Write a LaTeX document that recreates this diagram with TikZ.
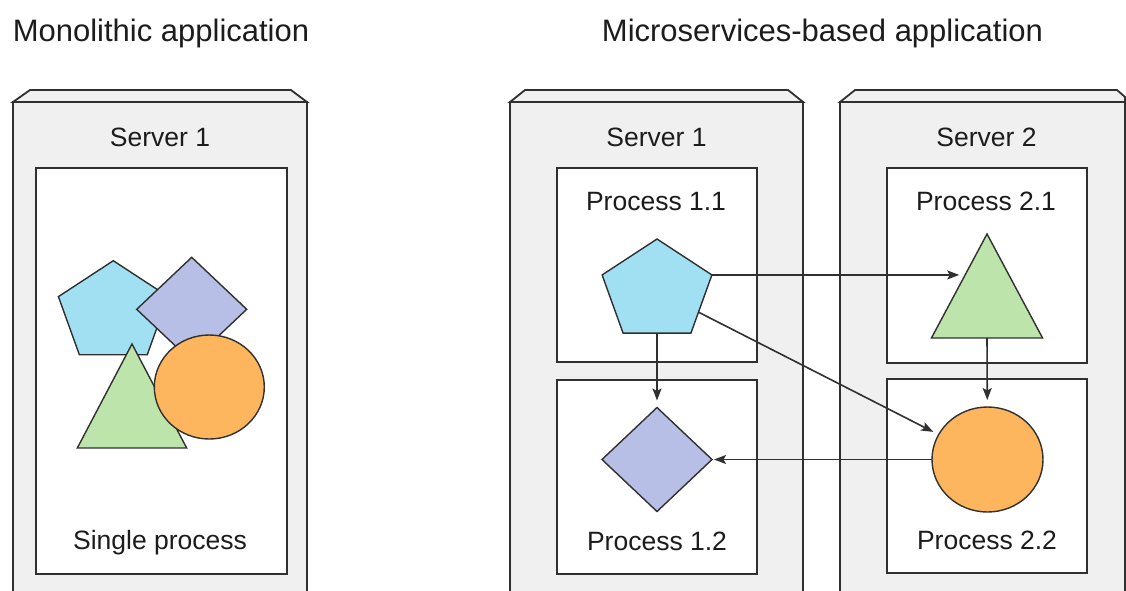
\documentclass[tikz,border=0pt]{standalone}
\usepackage{fontspec}
\setmainfont{Liberation Sans}
\usetikzlibrary{shapes.geometric,arrows.meta}
\definecolor{edgec}{HTML}{303030}
\definecolor{srvfill}{HTML}{F0F0F0}
\definecolor{txtc}{HTML}{1C1C1C}
\definecolor{pentc}{HTML}{A0E0F2}
\definecolor{diac}{HTML}{B7BFE6}
\definecolor{tric}{HTML}{BDE4AB}
\definecolor{circc}{HTML}{FEB65E}
\tikzset{
  server/.style={draw=edgec, fill=srvfill, line width=1.8pt, line join=miter},
  procbox/.style={draw=edgec, fill=white, line width=1.8pt},
  shp/.style={draw=edgec, line width=1.4pt, inner sep=0pt, outer sep=0pt},
  pent/.style={shp, fill=pentc, regular polygon, regular polygon sides=5, minimum size=104pt, transform shape},
  tri/.style={shp, fill=tric, regular polygon, regular polygon sides=3, minimum size=138.7pt, transform shape},
  dia/.style={shp, fill=diac, diamond, minimum width=110pt, minimum height=104pt},
  circ/.style={shp, fill=circc, ellipse, minimum width=110pt, minimum height=104pt},
  lbl/.style={text=txtc, font=\fontsize{26.5}{30}\selectfont, inner sep=0pt},
  ttl/.style={text=txtc, font=\fontsize{31}{36}\selectfont, inner sep=0pt},
  arr/.style={draw=edgec, line width=1.6pt, -{Stealth[length=12pt,width=9pt,inset=2.5pt]}}
}
\begin{document}
\begin{tikzpicture}[x=1pt,y=-1pt]
\useasboundingbox (0,0) rectangle (1126,590);
\clip (0,0) rectangle (1126,590);
% titles
\node[ttl] (t1) at (161,33) {Monolithic application};
\node[ttl] (t2) at (822.5,33) {Microservices-based application};
% servers
\draw[server] (13,102) -- (30,90) -- (291,90) -- (307,102) -- cycle;
\draw[server] (13,102) rectangle (307,600);
\draw[server] (510,102) -- (525,90) -- (788,90) -- (803,102) -- cycle;
\draw[server] (510,102) rectangle (803,600);
\draw[server] (840,102) -- (855,90) -- (1117,90) -- (1125,97) -- (1125,102) -- cycle;
\draw[server] (840,102) rectangle (1125,600);
\node[lbl] (s1) at (160,137) {Server 1};
\node[lbl] (s2) at (656.5,137) {Server 1};
\node[lbl] (s3) at (986.5,137) {Server 2};
% process boxes
\draw[procbox] (36,168) rectangle (287,574);
\draw[procbox] (556.7,168.3) rectangle (756.7,362.3);
\draw[procbox] (556.7,380) rectangle (756.7,574);
\draw[procbox] (886.7,168.3) rectangle (1086.7,362.7);
\draw[procbox] (886.7,379.3) rectangle (1086.7,573.3);
\node[lbl] (sp) at (160,543) {Single process};
\node[lbl] (p11) at (656,201.7) {Process 1.1};
\node[lbl] (p21) at (986,201.7) {Process 2.1};
\node[lbl] (p12) at (657,541.7) {Process 1.2};
\node[lbl] (p22) at (987,540.7) {Process 2.2};
% monolithic shapes
\begin{scope}[shift={(113.3,312.7)}, xscale=1.11]
  \node[pent] (mP) at (0,0) {};
\end{scope}
\node[dia] (mD) at (191.7,309.3) {};
\begin{scope}[shift={(132,413.3)}, xscale=0.91]
  \node[tri] (mT) at (0,0) {};
\end{scope}
\node[circ] (mC) at (209.3,387) {};
% microservice shapes
\begin{scope}[shift={(657,291)}, xscale=1.11]
  \node[pent] (P) at (0,0) {};
\end{scope}
\node[dia] (D) at (657,459.5) {};
\begin{scope}[shift={(987,303.3)}, xscale=0.925]
  \node[tri] (T) at (0,0) {};
\end{scope}
\node[circ, minimum width=111pt, minimum height=105pt] (C) at (987.5,459.5) {};
% connectors
\draw[arr] (P.corner 5) -- (T.side 1 |- P.corner 5);
\draw[arr, shorten >=7pt] (P) -- (D);
\draw[arr, shorten >=6pt] (P) -- (C);
\draw[arr, shorten >=7pt] (T.side 2) -- (C);
\draw[arr, shorten >=2pt] (C) -- (D);
\end{tikzpicture}
\end{document}
